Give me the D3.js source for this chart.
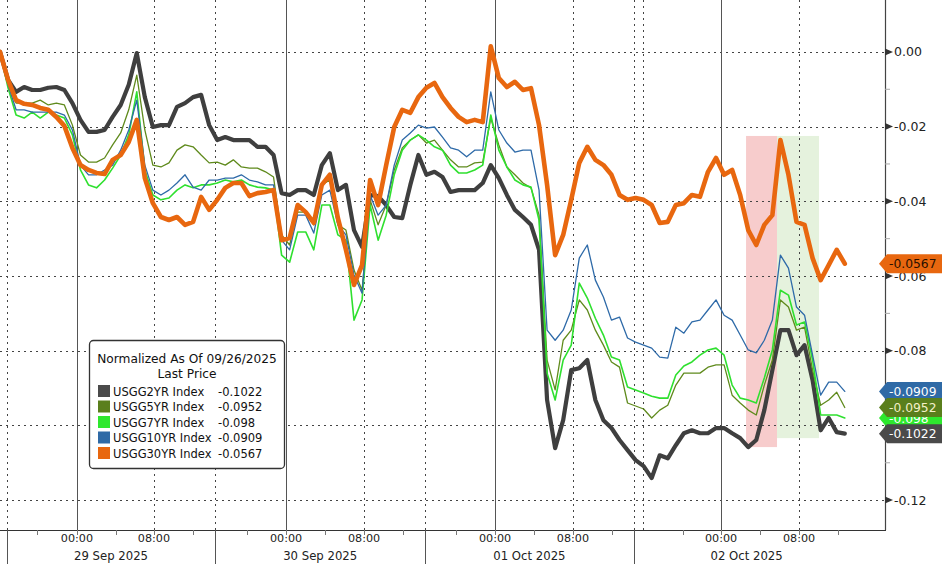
<!DOCTYPE html>
<html><head><meta charset="utf-8">
<script src="https://cdn.jsdelivr.net/npm/d3@7"></script>
<style>body{margin:0;background:#fff;} svg{display:block;font-family:"DejaVu Sans","Liberation Sans",Arial,sans-serif;}</style>
</head><body><svg id="c" width="942" height="564"></svg>
<script>
// ---- DATA (x = sample index, one sample per step along the intraday axis) ----
const seriesNames = ["USGG2YR Index","USGG5YR Index","USGG7YR Index","USGG10YR Index","USGG30YR Index"];
const lastPrices = ["-0.1022","-0.0952","-0.098","-0.0909","-0.0567"];
const lastValues = [-0.1022,-0.0952,-0.098,-0.0909,-0.0567];

const usgg2yr = [0,-0.0075,-0.0107,-0.0094,-0.0102,-0.0102,-0.0096,-0.0094,-0.0102,-0.0137,
 -0.0182,-0.0214,-0.0214,-0.0209,-0.0174,-0.0142,-0.0088,-0.0003,-0.0121,-0.0201,
 -0.0196,-0.0196,-0.0147,-0.0137,-0.0121,-0.0115,-0.0196,-0.0236,-0.0228,-0.0236,
 -0.0236,-0.0236,-0.0254,-0.0254,-0.0276,-0.0378,-0.0383,-0.0370,-0.0370,-0.0383,
 -0.0303,-0.0271,-0.0370,-0.0356,-0.0477,-0.0522,-0.0383,-0.0386,-0.0410,-0.0442,
 -0.0445,-0.0356,-0.0276,-0.0329,-0.0321,-0.0335,-0.0375,-0.0370,-0.0370,-0.0370,
 -0.0351,-0.0303,-0.0338,-0.0383,-0.0423,-0.0442,-0.0463,-0.0530,-0.0932,-0.1061,
 -0.0986,-0.0852,-0.0847,-0.0825,-0.0932,-0.0986,-0.1007,-0.1039,-0.1066,-0.1093,
 -0.1109,-0.1141,-0.1080,-0.1088,-0.1053,-0.1021,-0.1013,-0.1021,-0.1021,-0.1007,
 -0.1007,-0.1021,-0.1034,-0.1058,-0.1039,-0.0959,-0.0852,-0.0745,-0.0745,-0.0812,
 -0.0785,-0.0879,-0.1013,-0.0980,-0.1018,-0.1022];

const usgg5yr = [0,-0.0088,-0.0137,-0.0137,-0.0137,-0.0129,-0.0142,-0.0137,-0.0142,-0.0196,
 -0.0276,-0.0295,-0.0295,-0.0284,-0.0249,-0.0217,-0.0155,-0.0062,-0.0209,-0.0303,
 -0.0308,-0.0297,-0.0263,-0.0249,-0.0254,-0.0276,-0.0297,-0.0295,-0.0303,-0.0289,
 -0.0308,-0.0311,-0.0311,-0.0321,-0.0335,-0.0490,-0.0517,-0.0429,-0.0429,-0.0463,
 -0.0356,-0.0343,-0.0463,-0.0477,-0.0584,-0.0638,-0.0396,-0.0463,-0.0410,-0.0316,
 -0.0257,-0.0236,-0.0222,-0.0244,-0.0236,-0.0263,-0.0289,-0.0308,-0.0308,-0.0297,
 -0.0295,-0.0177,-0.0249,-0.0308,-0.0329,-0.0351,-0.0364,-0.0437,-0.0825,-0.0905,
 -0.0772,-0.0745,-0.0664,-0.0691,-0.0745,-0.0785,-0.0830,-0.0844,-0.0940,-0.0948,
 -0.0956,-0.0980,-0.0959,-0.0946,-0.0892,-0.0860,-0.0860,-0.0860,-0.0844,-0.0838,
 -0.0838,-0.0919,-0.0940,-0.0959,-0.0972,-0.0892,-0.0825,-0.0664,-0.0683,-0.0745,
 -0.0737,-0.0852,-0.0946,-0.0932,-0.0911,-0.0952];

const usgg7yr = [0,-0.0096,-0.0169,-0.0177,-0.0161,-0.0177,-0.0161,-0.0169,-0.0177,-0.0222,
 -0.0316,-0.0356,-0.0364,-0.0343,-0.0311,-0.0276,-0.0222,-0.0107,-0.0316,-0.0383,
 -0.0396,-0.0391,-0.0370,-0.0356,-0.0364,-0.0356,-0.0356,-0.0351,-0.0343,-0.0348,
 -0.0343,-0.0356,-0.0362,-0.0364,-0.0370,-0.0544,-0.0563,-0.0482,-0.0482,-0.0530,
 -0.0410,-0.0410,-0.0490,-0.0504,-0.0718,-0.0664,-0.0410,-0.0504,-0.0437,-0.0329,
 -0.0263,-0.0236,-0.0222,-0.0236,-0.0254,-0.0263,-0.0303,-0.0324,-0.0324,-0.0316,
 -0.0303,-0.0169,-0.0263,-0.0308,-0.0343,-0.0356,-0.0362,-0.0450,-0.0860,-0.0932,
 -0.0825,-0.0785,-0.0619,-0.0659,-0.0713,-0.0758,-0.0817,-0.0825,-0.0897,-0.0905,
 -0.0913,-0.0922,-0.0927,-0.0927,-0.0865,-0.0841,-0.0830,-0.0812,-0.0798,-0.0793,
 -0.0812,-0.0892,-0.0927,-0.0932,-0.0940,-0.0873,-0.0798,-0.0638,-0.0651,-0.0731,
 -0.0723,-0.0825,-0.0972,-0.0972,-0.0972,-0.0980];

const usgg10yr = [0,-0.0088,-0.0155,-0.0155,-0.0161,-0.0161,-0.0161,-0.0161,-0.0169,-0.0209,
 -0.0303,-0.0329,-0.0329,-0.0316,-0.0303,-0.0263,-0.0209,-0.0129,-0.0303,-0.0370,
 -0.0383,-0.0370,-0.0351,-0.0329,-0.0362,-0.0370,-0.0343,-0.0343,-0.0338,-0.0338,
 -0.0329,-0.0343,-0.0348,-0.0356,-0.0356,-0.0504,-0.0530,-0.0437,-0.0437,-0.0485,
 -0.0383,-0.0370,-0.0463,-0.0490,-0.0597,-0.0646,-0.0383,-0.0437,-0.0410,-0.0303,
 -0.0236,-0.0217,-0.0196,-0.0204,-0.0201,-0.0228,-0.0257,-0.0263,-0.0281,-0.0263,
 -0.0263,-0.0107,-0.0209,-0.0244,-0.0268,-0.0263,-0.0263,-0.0370,-0.0745,-0.0772,
 -0.0745,-0.0691,-0.0552,-0.0517,-0.0611,-0.0656,-0.0718,-0.0710,-0.0766,-0.0777,
 -0.0785,-0.0793,-0.0817,-0.0820,-0.0737,-0.0753,-0.0723,-0.0718,-0.0691,-0.0664,
 -0.0705,-0.0718,-0.0758,-0.0798,-0.0806,-0.0772,-0.0718,-0.0544,-0.0579,-0.0683,
 -0.0705,-0.0812,-0.0919,-0.0884,-0.0884,-0.0909];

const usgg30yr = [0,-0.0075,-0.0129,-0.0139,-0.0142,-0.0150,-0.0155,-0.0174,-0.0198,-0.0257,
 -0.0303,-0.0316,-0.0324,-0.0327,-0.0289,-0.0276,-0.0241,-0.0182,-0.0338,-0.0405,
 -0.0442,-0.0450,-0.0442,-0.0463,-0.0455,-0.0388,-0.0423,-0.0396,-0.0364,-0.0351,
 -0.0351,-0.0386,-0.0378,-0.0375,-0.0370,-0.0504,-0.0498,-0.0410,-0.0429,-0.0458,
 -0.0356,-0.0329,-0.0445,-0.0530,-0.0624,-0.0571,-0.0343,-0.0410,-0.0303,-0.0201,
 -0.0155,-0.0163,-0.0121,-0.0096,-0.0083,-0.0121,-0.0150,-0.0174,-0.0188,-0.0182,
 -0.0188,0.0015,-0.0070,-0.0094,-0.0080,-0.0102,-0.0097,-0.0196,-0.0356,-0.0544,
 -0.0490,-0.0396,-0.0297,-0.0254,-0.0289,-0.0303,-0.0329,-0.0383,-0.0396,-0.0391,
 -0.0396,-0.0410,-0.0458,-0.0455,-0.0410,-0.0405,-0.0383,-0.0388,-0.0321,-0.0284,
 -0.0329,-0.0316,-0.0383,-0.0477,-0.0517,-0.0463,-0.0437,-0.0236,-0.0329,-0.0455,
 -0.0463,-0.0552,-0.0611,-0.0571,-0.0530,-0.0567];

// axis tick data (in sample-index units)
const timeTickPos = [9.57,19.14,35.55,45.25,61.53,71.22,89.62,99.32];
const timeTickLabels = ["00:00","08:00","00:00","08:00","00:00","08:00","00:00","08:00"];
const midnightPos = [9.57,35.55,61.53,89.62];
const eightPos = [19.14,45.25,71.22,99.32];
const sessionSepPos = [0.87,26.72,52.83,78.81,79.93];
const minorTimePos = [4.6,14.42,23.99,30.7,40.4,50.1,56.68,66.38,76.07,84.9,94.47,104.16];
const dayLabelPos = [13.8,39.8,65.8,92.8];
const dayLabels = ["29 Sep 2025","30 Sep 2025","01 Oct 2025","02 Oct 2025"];
const yTickValues = [0,-0.02,-0.04,-0.06,-0.08,-0.10,-0.12];
const yTickLabels = ["0.00","-0.02","-0.04","-0.06","-0.08","-0.10","-0.12"];
const yMinorValues = [-0.01,-0.03,-0.05,-0.07,-0.09,-0.11];
// highlighted windows
const bandStart = [92.73,96.58];
const bandEnd = [96.58,101.8];
const bandTop = [-0.0225,-0.0225];
const bandBottom = [-0.1058,-0.1034];

// ---- DRAW ----
const svg = d3.select("#c");
const x = d3.scaleLinear().domain([0,110]).range([0,885]);
const y = d3.scaleLinear().domain([0.0139,-0.128]).range([0,530]);
const axisX = 885, axisY = 530;

svg.append("rect").attr("width",942).attr("height",564).attr("fill","#fff");

const bandColors = ["#f7cccc","#e5f2dd"];
bandStart.forEach((b,i)=>{
  svg.append("rect").attr("x",x(b)).attr("width",x(bandEnd[i])-x(b))
    .attr("y",y(bandTop[i])).attr("height",y(bandBottom[i])-y(bandTop[i]))
    .attr("fill",bandColors[i]);
});

// horizontal dotted grid
svg.selectAll(".hg").data(yTickValues).enter().append("line")
  .attr("x1",0).attr("x2",axisX).attr("y1",d=>Math.round(y(d))+0.5).attr("y2",d=>Math.round(y(d))+0.5)
  .attr("stroke","#444").attr("stroke-width",1).attr("stroke-dasharray","2,4");
// vertical dotted lines
svg.selectAll(".vd").data(eightPos.concat(sessionSepPos)).enter().append("line")
  .attr("x1",d=>Math.round(x(d))+0.5).attr("x2",d=>Math.round(x(d))+0.5).attr("y1",0).attr("y2",axisY)
  .attr("stroke","#444").attr("stroke-width",1).attr("stroke-dasharray","2,4");
// vertical solid lines (midnight)
svg.selectAll(".vs").data(midnightPos).enter().append("line")
  .attr("x1",d=>Math.round(x(d))+0.5).attr("x2",d=>Math.round(x(d))+0.5).attr("y1",0).attr("y2",axisY)
  .attr("stroke","#555").attr("stroke-width",1);

// series lines
const line = d3.line().x((d,i)=>x(i)).y(d=>y(d)).curve(d3.curveLinear);
const seriesData = [usgg2yr,usgg5yr,usgg7yr,usgg10yr,usgg30yr];
const lineColors = ["#3f3f3f","#5f8a1c","#2fe02f","#2e6aa8","#e8670f"];
const swatchColors = ["#4a4a4a","#5a7f1c","#2ee82e","#2f6aa6","#e8670f"];
const lineWidths = [4.2,1.3,1.6,1.3,4.6];
seriesData.forEach((s,i)=>{
  svg.append("path").datum(s).attr("d",line).attr("fill","none")
    .attr("stroke",lineColors[i]).attr("stroke-width",lineWidths[i])
    .attr("stroke-linejoin","round").attr("stroke-linecap","round");
});

// right axis
svg.append("line").attr("x1",axisX+0.5).attr("x2",axisX+0.5).attr("y1",0).attr("y2",axisY)
  .attr("stroke","#444").attr("stroke-width",1.2);
yTickValues.forEach((v,i)=>{
  const yy = y(v);
  svg.append("path").attr("d",`M${axisX},${yy-3.5}L${axisX+8},${yy}L${axisX},${yy+3.5}Z`).attr("fill","#333");
  svg.append("text").attr("x",axisX+9).attr("y",yy+4.5).attr("font-size",12.5).attr("fill","#222")
    .text(yTickLabels[i]);
});
yMinorValues.forEach(v=>{
  svg.append("line").attr("x1",axisX).attr("x2",axisX+5).attr("y1",y(v)).attr("y2",y(v))
    .attr("stroke","#aaa").attr("stroke-width",1);
});

// bottom axis
svg.append("line").attr("x1",0).attr("x2",axisX+1).attr("y1",axisY+0.5).attr("y2",axisY+0.5)
  .attr("stroke","#333").attr("stroke-width",1.2);
minorTimePos.concat(timeTickPos).forEach(p=>{
  svg.append("line").attr("x1",Math.round(x(p))+0.5).attr("x2",Math.round(x(p))+0.5)
    .attr("y1",axisY).attr("y2",axisY+5).attr("stroke","#777").attr("stroke-width",1);
});
sessionSepPos.slice(0,4).forEach(p=>{
  svg.append("line").attr("x1",Math.round(x(p))+0.5).attr("x2",Math.round(x(p))+0.5)
    .attr("y1",axisY).attr("y2",564).attr("stroke","#555").attr("stroke-width",1);
});
timeTickPos.forEach((p,i)=>{
  svg.append("text").attr("x",x(p)).attr("y",axisY+12).attr("text-anchor","middle")
    .attr("font-size",11.2).attr("fill","#222").text(timeTickLabels[i]);
});
dayLabelPos.forEach((p,i)=>{
  svg.append("text").attr("x",x(p)).attr("y",axisY+30).attr("text-anchor","middle")
    .attr("font-size",11.7).attr("fill","#222").text(dayLabels[i]);
});

// last-price tags (drawn so the stacking matches: black on top)
const tagOrder = [4,2,3,1,0];
const tagText = ["#fff","#f4f0c8","#fff","#fff","#2a1000"];
tagOrder.forEach(i=>{
  const yy = y(lastValues[i]);
  svg.append("path").attr("d",`M879,${yy}L887,${yy-9.5}L942,${yy-9.5}L942,${yy+9.5}L887,${yy+9.5}Z`)
    .attr("fill",swatchColors[i]);
  svg.append("text").attr("x",889).attr("y",yy+4.6).attr("font-size",12.3)
    .attr("fill",tagText[i]).text(lastPrices[i]);
});

// legend
const lg = svg.append("g");
lg.append("rect").attr("x",89.5).attr("y",340.5).attr("width",195).attr("height",128).attr("rx",4)
  .attr("fill","#fff").attr("stroke","#333").attr("stroke-width",1.3);
lg.append("text").attr("x",187).attr("y",362.5).attr("text-anchor","middle").attr("font-size",12.2)
  .attr("fill","#111").text("Normalized As Of 09/26/2025");
lg.append("text").attr("x",187).attr("y",378).attr("text-anchor","middle").attr("font-size",12.2)
  .attr("fill","#111").text("Last Price");
seriesNames.forEach((n,i)=>{
  const cy = 391 + i*15.5;
  lg.append("rect").attr("x",98).attr("y",cy-6).attr("width",12).attr("height",12).attr("fill",swatchColors[i]);
  lg.append("text").attr("x",113).attr("y",cy+4.5).attr("font-size",11.5).attr("fill","#111").text(n);
  lg.append("text").attr("x",218).attr("y",cy+4.5).attr("font-size",11.5).attr("fill","#111").text(lastPrices[i]);
});
</script></body></html>
